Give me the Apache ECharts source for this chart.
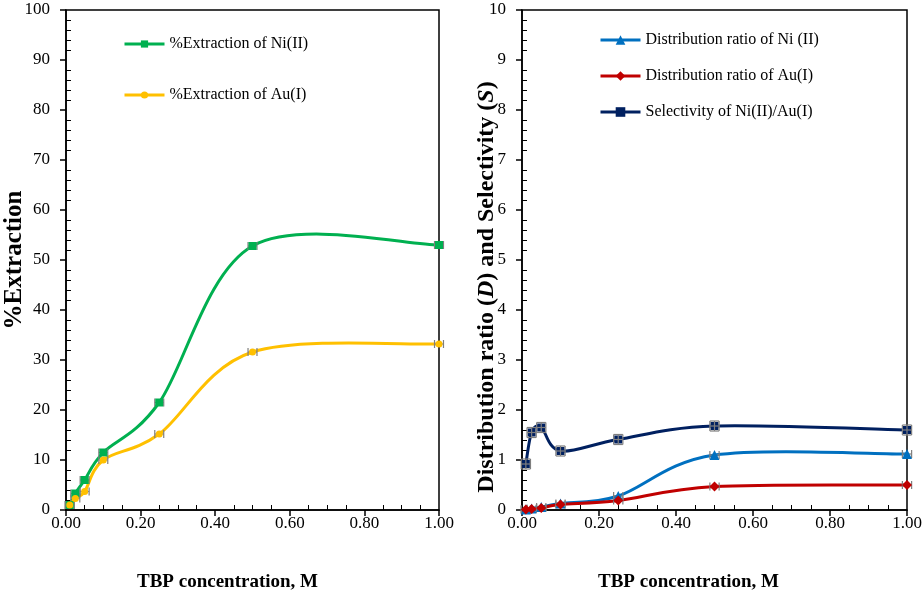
<!DOCTYPE html>
<html>
<head>
<meta charset="utf-8">
<script src="https://cdn.jsdelivr.net/npm/echarts@6/dist/echarts.min.js"></script>
<style>html,body{margin:0;padding:0;background:#fff}#c{width:923px;height:594px}</style>
</head>
<body>
<div id="c"></div>
<script>
// ---- data ----
var tbp = [0.01, 0.025, 0.05, 0.10, 0.25, 0.50, 1.00];
var extNi = [1.0, 3.3, 6.0, 11.5, 21.5, 52.8, 53.0];
var extAu = [1.0, 2.3, 3.7, 10.0, 15.2, 31.6, 33.2];
var dNi = [0.01, 0.03, 0.06, 0.13, 0.28, 1.10, 1.12];
var dAu = [0.01, 0.02, 0.04, 0.11, 0.19, 0.47, 0.50];
var selNiAu = [0.92, 1.55, 1.65, 1.18, 1.41, 1.68, 1.60];
var xTicks = ['0.00', '0.20', '0.40', '0.60', '0.80', '1.00'];
var errX = 0.012;
var errYSel = 0.1;

var FONT = 'Liberation Serif';

function pairs(xs, ys) { return xs.map(function (x, i) { return [x, ys[i]]; }); }

function errRender(ex, ey, capPx) {
  return function (params, api) {
    var x = api.value(0), y = api.value(1);
    var c = api.coord([x, y]);
    var l = api.coord([x - ex, y]);
    var r = api.coord([x + ex, y]);
    var st = { stroke: '#7f7f7f', lineWidth: 1.2, fill: null };
    var ch = [
      { type: 'line', shape: { x1: l[0], y1: c[1], x2: r[0], y2: c[1] }, style: st },
      { type: 'line', shape: { x1: l[0], y1: c[1] - capPx, x2: l[0], y2: c[1] + capPx }, style: st },
      { type: 'line', shape: { x1: r[0], y1: c[1] - capPx, x2: r[0], y2: c[1] + capPx }, style: st }
    ];
    if (ey) {
      var t = api.coord([x, y + ey]), b = api.coord([x, y - ey]);
      var hw = (r[0] - l[0]) / 2;
      ch.push({ type: 'line', shape: { x1: c[0], y1: t[1], x2: c[0], y2: b[1] }, style: st });
      ch.push({ type: 'line', shape: { x1: c[0] - hw, y1: t[1], x2: c[0] + hw, y2: t[1] }, style: st });
      ch.push({ type: 'line', shape: { x1: c[0] - hw, y1: b[1], x2: c[0] + hw, y2: b[1] }, style: st });
    }
    return { type: 'group', children: ch };
  };
}

// smoothed curve (Excel-like cardinal spline) through the data points, drawn via the axis scales
function curveRender(xs, ys, color) {
  return function (params, api) {
    var i = params.dataIndex, n = xs.length;
    if (i >= n - 1) return { type: 'group', children: [] };
    var P = function (k) { k = Math.max(0, Math.min(n - 1, k)); return api.coord([xs[k], ys[k]]); };
    var p0 = P(i - 1), p1 = P(i), p2 = P(i + 1), p3 = P(i + 2), t = 1 / 6;
    return {
      type: 'bezierCurve',
      shape: {
        x1: p1[0], y1: p1[1], x2: p2[0], y2: p2[1],
        cpx1: p1[0] + (p2[0] - p0[0]) * t, cpy1: p1[1] + (p2[1] - p0[1]) * t,
        cpx2: p2[0] - (p3[0] - p1[0]) * t, cpy2: p2[1] - (p3[1] - p1[1]) * t
      },
      style: { stroke: color, lineWidth: 3, fill: null, lineCap: 'round' }
    };
  };
}

function xAxisCfg(gi) {
  return {
    type: 'value', gridIndex: gi, min: 0, max: 1, interval: 0.2,
    axisLine: { lineStyle: { color: '#000', width: 1.5 } },
    axisTick: { show: true, length: 6, lineStyle: { color: '#000', width: 1.5 } },
    minorTick: { show: false },
    axisLabel: { color: '#000', fontFamily: FONT, fontSize: 17, margin: 5,
      formatter: function (v) { return xTicks[Math.round(v / 0.2)]; } },
    splitLine: { show: false }
  };
}
function xMinorCfg(gi) {
  return {
    type: 'value', gridIndex: gi, min: 0, max: 1, interval: 0.2, position: 'bottom',
    axisLine: { show: false }, axisLabel: { show: false }, splitLine: { show: false },
    axisTick: { show: false, inside: true },
    minorTick: { show: true, splitNumber: 4, length: 5, lineStyle: { color: '#000', width: 1 } }
  };
}
function yMinorCfg(gi, max, interval) {
  return {
    type: 'value', gridIndex: gi, min: 0, max: max, interval: interval, position: 'left',
    axisLine: { show: false }, axisLabel: { show: false }, splitLine: { show: false },
    axisTick: { show: false, inside: true },
    minorTick: { show: true, splitNumber: 5, length: 5, lineStyle: { color: '#000', width: 1 } }
  };
}

function yAxisCfg(gi, max, interval) {
  return {
    type: 'value', gridIndex: gi, min: 0, max: max, interval: interval, position: 'left',
    axisLine: { lineStyle: { color: '#000', width: 1.5 } },
    axisTick: { show: true, length: 6, lineStyle: { color: '#000', width: 1.5 } },
    minorTick: { show: false },
    axisLabel: { color: '#000', fontFamily: FONT, fontSize: 17, margin: 16 },
    splitLine: { show: false }
  };
}

var chart = echarts.init(document.getElementById('c'));
var option = {
  backgroundColor: '#fff',
  animation: false,
  grid: [
    { left: 66, top: 10, width: 373, height: 500, show: true, borderColor: '#000', borderWidth: 1.5, backgroundColor: 'transparent', containLabel: false, outerBoundsMode: 'none' },
    { left: 522, top: 10, width: 385, height: 500, show: true, borderColor: '#000', borderWidth: 1.5, backgroundColor: 'transparent', containLabel: false, outerBoundsMode: 'none' }
  ],
  xAxis: [xAxisCfg(0), xAxisCfg(1), xMinorCfg(0), xMinorCfg(1)],
  yAxis: [yAxisCfg(0, 100, 10), yAxisCfg(1, 10, 1), yMinorCfg(0, 100, 10), yMinorCfg(1, 10, 1)],
  legend: [
    {
      left: 118, top: 31, orient: 'vertical', itemGap: 35, itemWidth: 40, itemHeight: 9,
      textStyle: { fontFamily: FONT, fontSize: 16, color: '#000' },
      lineStyle: { opacity: 1, width: 3 },
      data: ['%Extraction of Ni(II)', '%Extraction of Au(I)']
    },
    {
      left: 594, top: 27, orient: 'vertical', itemGap: 20, itemWidth: 40, itemHeight: 12,
      textStyle: { fontFamily: FONT, fontSize: 16, color: '#000' },
      lineStyle: { opacity: 1, width: 3 },
      data: ['Distribution ratio of Ni (II)', 'Distribution ratio of Au(I)', 'Selectivity of Ni(II)/Au(I)']
    }
  ],
  graphic: [
    { type: 'text', left: 137, top: 573, style: { text: 'TBP concentration, M', fontFamily: FONT, fontSize: 19, fontWeight: 'bold', fill: '#000' } },
    { type: 'text', left: 598, top: 573, style: { text: 'TBP concentration, M', fontFamily: FONT, fontSize: 19, fontWeight: 'bold', fill: '#000' } },
    { type: 'text', x: 15, y: 260, rotation: Math.PI / 2,
      style: { text: '%Extraction', fontFamily: FONT, fontSize: 25, fontWeight: 'bold', fill: '#000', align: 'center', verticalAlign: 'middle' } },
    { type: 'text', x: 487, y: 287, rotation: Math.PI / 2,
      style: { text: 'Distribution ratio ({i|D}) and Selectivity ({i|S})', fontFamily: FONT, fontSize: 24, fontWeight: 'bold', fill: '#000', align: 'center', verticalAlign: 'middle',
        rich: { i: { fontFamily: FONT, fontSize: 24, fontWeight: 'bold', fontStyle: 'italic', fill: '#000' } } } }
  ],
  series: [
    { type: 'custom', xAxisIndex: 0, yAxisIndex: 0, data: pairs(tbp, extNi), renderItem: curveRender(tbp, extNi, '#00B050'), z: 2, silent: true },
    { type: 'custom', xAxisIndex: 0, yAxisIndex: 0, data: pairs(tbp, extAu), renderItem: curveRender(tbp, extAu, '#FFC000'), z: 2, silent: true },
    { type: 'custom', xAxisIndex: 0, yAxisIndex: 0, data: pairs(tbp, extNi), renderItem: errRender(errX, 0, 4), z: 3, silent: true },
    { type: 'custom', xAxisIndex: 0, yAxisIndex: 0, data: pairs(tbp, extAu), renderItem: errRender(errX, 0, 4), z: 3, silent: true },
    { name: '%Extraction of Ni(II)', type: 'line', xAxisIndex: 0, yAxisIndex: 0, data: pairs(tbp, extNi),
      symbol: 'rect', symbolSize: 8, itemStyle: { color: '#00B050' }, lineStyle: { width: 3, color: '#00B050', opacity: 0 }, z: 4 },
    { name: '%Extraction of Au(I)', type: 'line', xAxisIndex: 0, yAxisIndex: 0, data: pairs(tbp, extAu),
      symbol: 'circle', symbolSize: 7, itemStyle: { color: '#FFC000' }, lineStyle: { width: 3, color: '#FFC000', opacity: 0 }, z: 4 },

    { type: 'custom', xAxisIndex: 1, yAxisIndex: 1, data: pairs(tbp, dNi), renderItem: curveRender(tbp, dNi, '#0070C0'), z: 2, silent: true },
    { type: 'custom', xAxisIndex: 1, yAxisIndex: 1, data: pairs(tbp, dAu), renderItem: curveRender(tbp, dAu, '#C00000'), z: 2, silent: true },
    { type: 'custom', xAxisIndex: 1, yAxisIndex: 1, data: pairs(tbp, selNiAu), renderItem: curveRender(tbp, selNiAu, '#002060'), z: 2, silent: true },
    { type: 'custom', xAxisIndex: 1, yAxisIndex: 1, data: pairs(tbp, dNi), renderItem: errRender(errX, 0, 4), z: 3, silent: true },
    { type: 'custom', xAxisIndex: 1, yAxisIndex: 1, data: pairs(tbp, dAu), renderItem: errRender(errX, 0, 4), z: 3, silent: true },
    { type: 'custom', xAxisIndex: 1, yAxisIndex: 1, data: pairs(tbp, selNiAu), renderItem: errRender(errX, errYSel, 5), z: 5, silent: true },
    { name: 'Distribution ratio of Ni (II)', type: 'line', xAxisIndex: 1, yAxisIndex: 1, data: pairs(tbp, dNi),
      symbol: 'triangle', symbolSize: 10, itemStyle: { color: '#0070C0' }, lineStyle: { width: 3, color: '#0070C0', opacity: 0 }, z: 4 },
    { name: 'Distribution ratio of Au(I)', type: 'line', xAxisIndex: 1, yAxisIndex: 1, data: pairs(tbp, dAu),
      symbol: 'diamond', symbolSize: 10, itemStyle: { color: '#C00000' }, lineStyle: { width: 3, color: '#C00000', opacity: 0 }, z: 4 },
    { name: 'Selectivity of Ni(II)/Au(I)', type: 'line', xAxisIndex: 1, yAxisIndex: 1, data: pairs(tbp, selNiAu),
      symbol: 'rect', symbolSize: 8, itemStyle: { color: '#002060' }, lineStyle: { width: 3, color: '#002060', opacity: 0 }, z: 4 }
  ]
};
chart.setOption(option);
</script>
</body>
</html>
